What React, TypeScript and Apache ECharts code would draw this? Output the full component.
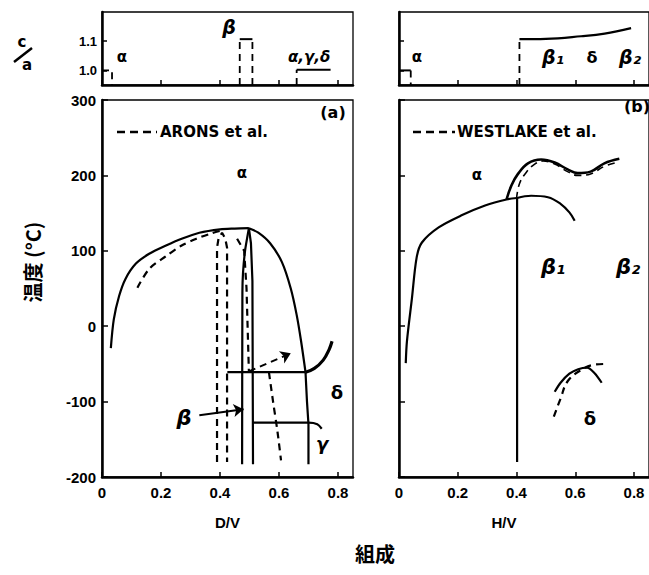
import React, { useEffect, useRef } from "react";
import * as echarts from "echarts";

// ---- tick labels ----
const xTickValues = [0, 0.2, 0.4, 0.6, 0.8];
const tempTickValues = [-200, -100, 0, 100, 200, 300];
const caTickValues = [1.0, 1.1];

// ---- panel (a) D/V : solid (this work) ----
const aAlphaSolid = [[0.03, -29], [0.04, 9], [0.058, 40], [0.08, 63], [0.115, 83], [0.16, 96], [0.217, 107], [0.27, 116], [0.33, 124], [0.4, 128.5], [0.45, 129.5], [0.498, 130]];
const aRightCurve = [[0.498, 130], [0.53, 124], [0.57, 110], [0.61, 85], [0.64, 50], [0.66, 15], [0.675, -20], [0.69, -61]];
const aRightLine = [[0.69, -61], [0.695, -100], [0.7, -130], [0.7, -183]];
const aBetaLeft = [[0.498, 130], [0.485, 100], [0.478, 70], [0.476, 44], [0.475, -183]];
const aBetaRight = [[0.498, 130], [0.505, 110], [0.51, 60], [0.512, -183]];
const aEutectoid = [[0.425, -61], [0.69, -61]];
const aDeltaCurve = [[0.69, -61], [0.72, -56], [0.75, -45], [0.77, -31], [0.78, -20]];
const aGammaLine = [[0.512, -128], [0.7, -128], [0.73, -130], [0.745, -136]];
const aBetaArrow = [[0.33, -118], [0.48, -110]];

// ---- panel (a) D/V : dashed (ARONS et al.) ----
const aAlphaDashed = [[0.12, 51], [0.16, 76], [0.217, 93], [0.27, 107], [0.32, 116], [0.37, 123], [0.405, 127]];
const aDashedLens = [[0.39, -180], [0.39, 104], [0.395, 116], [0.407, 124], [0.418, 116], [0.424, 104], [0.424, -180]];
const aDashedBeta = [[0.458, 116], [0.482, 100], [0.49, 50], [0.498, -60]];
const aDashedArrow = [[0.498, -60], [0.64, -36]];
const aDashedCurve = [[0.566, -61], [0.58, -100], [0.595, -140], [0.607, -178]];

// ---- panel (b) H/V : solid ----
const bAlphaSolid = [[0.023, -49], [0.027, -20], [0.044, 37], [0.06, 91], [0.078, 111], [0.135, 131], [0.213, 147], [0.293, 160], [0.366, 168], [0.402, 170]];
const bVertical = [[0.402, 170], [0.402, -180]];
const bBeta1 = [[0.402, 170], [0.45, 173], [0.507, 171], [0.551, 162], [0.58, 151], [0.598, 140]];
const bUpperSolid = [[0.366, 168], [0.383, 187], [0.405, 202], [0.439, 216], [0.484, 221], [0.53, 217], [0.574, 208], [0.608, 203], [0.652, 205], [0.699, 216], [0.75, 222]];
const bDeltaSolid = [[0.53, -87], [0.55, -75], [0.58, -63], [0.61, -57], [0.64, -55], [0.665, -62], [0.69, -75]];

// ---- panel (b) H/V : dashed (WESTLAKE et al.) ----
const bUpperDashed = [[0.4, 169], [0.41, 189], [0.433, 204], [0.462, 215], [0.49, 219], [0.53, 215], [0.574, 205], [0.608, 200], [0.652, 202], [0.699, 212], [0.75, 218]];
const bDeltaDashed = [[0.527, -120], [0.55, -96], [0.574, -73], [0.62, -58], [0.665, -51], [0.71, -50]];

// ---- top panels c/a ----
const caAAlpha = [[0, 1.0], [0.034, 1.0], [0.034, 0.95]];
const caABetaLeft = [[0.467, 0.95], [0.467, 1.107]];
const caABetaRight = [[0.51, 0.95], [0.51, 1.107]];
const caABetaTop = [[0.467, 1.107], [0.51, 1.107]];
const caAGammaDash = [[0.66, 0.95], [0.66, 1.002]];
const caAGammaLine = [[0.66, 1.002], [0.775, 1.002]];
const caBAlpha = [[0, 1.0], [0.04, 1.0]];
const caBAlphaDash = [[0.04, 1.0], [0.04, 0.95]];
const caBDash = [[0.41, 0.95], [0.41, 1.107]];
const caBCurve = [[0.41, 1.107], [0.5, 1.108], [0.62, 1.117], [0.7, 1.126], [0.79, 1.145]];

const FONT = "Liberation Sans";
const BLACK = "#000";

function ln(data: number[][], axis: number, opts: { dash?: boolean; w?: number; smooth?: number } = {}) {
  return {
    type: "line",
    data,
    xAxisIndex: axis,
    yAxisIndex: axis,
    symbol: "none",
    showSymbol: false,
    silent: true,
    smooth: opts.smooth ?? 0,
    lineStyle: { color: BLACK, width: opts.w ?? 2.2, type: opts.dash ? [7, 5] : "solid" },
    z: 3,
  } as any;
}

function arrow(seg: number[][], dashed: boolean) {
  return {
    silent: true,
    symbol: ["none", "arrow"],
    symbolSize: 10,
    label: { show: false },
    lineStyle: { color: BLACK, width: 2, type: dashed ? [7, 5] : "solid" },
    data: [[{ coord: seg[0] }, { coord: seg[1] }]],
  };
}

function xAx(grid: number, labels: boolean, name?: string, namePad?: number[]) {
  return {
    type: "value",
    gridIndex: grid,
    min: 0,
    max: 0.851,
    name: name,
    nameLocation: "middle",
    nameGap: 38,
    nameTextStyle: { fontFamily: FONT, fontWeight: "bold", fontSize: 15, color: BLACK, padding: namePad || [0, 0, 0, 0] },
    axisLine: { show: true, onZero: false, lineStyle: { color: BLACK, width: 2.5 } },
    axisTick: { show: true, inside: true, length: 5, customValues: xTickValues, lineStyle: { color: BLACK, width: 1.5 } },
    axisLabel: {
      show: labels,
      customValues: xTickValues,
      fontFamily: FONT,
      fontWeight: "bold",
      fontSize: 15,
      color: BLACK,
      margin: 8,
      formatter: (v: number) => (v === 0 ? "0" : v.toFixed(1)),
    },
    splitLine: { show: false },
  } as any;
}

function yMain(grid: number, labels: boolean) {
  return {
    type: "value",
    gridIndex: grid,
    min: -200,
    max: 300,
    interval: 100,
    axisLine: { show: true, onZero: false, lineStyle: { color: BLACK, width: 2.5 } },
    axisTick: { show: true, inside: true, length: 6, lineStyle: { color: BLACK, width: 1.5 } },
    axisLabel: { show: labels, fontFamily: FONT, fontWeight: "bold", fontSize: 15, color: BLACK, margin: 6 },
    splitLine: { show: false },
  } as any;
}

function yTop(grid: number, labels: boolean) {
  return {
    type: "value",
    gridIndex: grid,
    min: 0.95,
    max: 1.2,
    axisLine: { show: true, onZero: false, lineStyle: { color: BLACK, width: 2.5 } },
    axisTick: { show: true, inside: true, length: 5, customValues: caTickValues, lineStyle: { color: BLACK, width: 1.5 } },
    axisLabel: {
      show: labels,
      customValues: caTickValues,
      fontFamily: FONT,
      fontWeight: "bold",
      fontSize: 13,
      color: BLACK,
      margin: 5,
      formatter: (v: number) => v.toFixed(1),
    },
    splitLine: { show: false },
  } as any;
}

function txt(x: number, y: number, text: string, o: any = {}) {
  return {
    type: "text",
    x,
    y,
    silent: true,
    rotation: o.rotation || 0,
    style: {
      text,
      fill: BLACK,
      font: `${o.italic ? "italic " : ""}bold ${o.size || 16}px ${o.family || "'DejaVu Sans'"}`,
      align: o.align || "center",
      verticalAlign: "middle",
    },
  };
}

export default function App() {
  const ref = useRef<HTMLDivElement>(null);
  useEffect(() => {
    if (!ref.current) return;
    const chart = echarts.init(ref.current, null, { renderer: "svg" });
    const gridStyle = { show: true, borderColor: BLACK, borderWidth: 1.3, backgroundColor: "transparent" };
    const series: any[] = [
      // panel a
      ln(aAlphaSolid, 0, { smooth: 0.3 }),
      ln(aRightCurve, 0, { smooth: 0.3 }),
      ln(aRightLine, 0),
      ln(aBetaLeft, 0, { smooth: 0.2 }),
      ln(aBetaRight, 0),
      ln(aEutectoid, 0),
      ln(aDeltaCurve, 0, { smooth: 0.4, w: 3.2 }),
      ln(aGammaLine, 0, { smooth: 0.3 }),
      ln(aAlphaDashed, 0, { dash: true, smooth: 0.3 }),
      ln(aDashedLens, 0, { dash: true }),
      ln(aDashedBeta, 0, { dash: true }),
      { ...ln(aDashedCurve, 0, { dash: true, smooth: 0.3 }), markLine: arrow(aDashedArrow, true) },
      { ...ln([], 0), markLine: arrow(aBetaArrow, false) },
      // panel b
      ln(bAlphaSolid, 1, { smooth: 0.3 }),
      ln(bVertical, 1),
      ln(bBeta1, 1, { smooth: 0.4 }),
      ln(bUpperSolid, 1, { smooth: 0.4, w: 2.6 }),
      ln(bUpperDashed, 1, { smooth: 0.4, dash: true, w: 1.6 }),
      ln(bDeltaSolid, 1, { smooth: 0.3 }),
      ln(bDeltaDashed, 1, { smooth: 0.4, dash: true }),
      // top a
      ln(caAAlpha, 2, { dash: true, w: 1.8 }),
      ln(caABetaLeft, 2, { dash: true, w: 1.8 }),
      ln(caABetaRight, 2, { dash: true, w: 1.8 }),
      ln(caABetaTop, 2, { w: 2 }),
      ln(caAGammaDash, 2, { dash: true, w: 1.8 }),
      ln(caAGammaLine, 2, { w: 2 }),
      // top b
      ln(caBAlpha, 3, { w: 2 }),
      ln(caBAlphaDash, 3, { dash: true, w: 1.8 }),
      ln(caBDash, 3, { dash: true, w: 1.8 }),
      ln(caBCurve, 3, { smooth: 0.4, w: 2.2 }),
    ];

    const graphic: any[] = [
      // y axis titles
      txt(32, 262, "温度 (°C)", { rotation: Math.PI / 2, size: 20, family: "'Noto Sans CJK JP'" }),
      txt(22, 42, "c", { size: 15 }),
      txt(27, 65, "a", { size: 15 }),
      { type: "line", silent: true, shape: { x1: 14, y1: 62, x2: 32, y2: 48 }, style: { stroke: BLACK, lineWidth: 2.5 } },
      // bottom title
      txt(375, 553, "組成", { size: 20, family: "'Noto Sans CJK JP'" }),
      // top panel labels
      txt(122, 57, "α", { size: 15 }),
      txt(229, 27, "β", { size: 19, italic: true }),
      txt(288, 57, "α,γ,δ", { size: 15, align: "left", italic: true }),
      txt(417, 57, "α", { size: 15 }),
      txt(553, 57, "β₁", { size: 19, italic: true }),
      txt(592, 57, "δ", { size: 16 }),
      txt(630, 57, "β₂", { size: 19, italic: true }),
      // main a labels
      txt(333, 112, "(a)", { size: 16 }),
      txt(242, 173, "α", { size: 15 }),
      txt(337, 392, "δ", { size: 18 }),
      txt(322, 443, "γ", { size: 18, italic: true }),
      txt(184, 418, "β", { size: 21, italic: true }),
      // main b labels
      txt(637, 106, "(b)", { size: 16 }),
      txt(477, 175, "α", { size: 15 }),
      txt(553, 267, "β₁", { size: 21, italic: true }),
      txt(628, 267, "β₂", { size: 21, italic: true }),
      txt(590, 418, "δ", { size: 18 }),
      // legends
      { type: "line", silent: true, shape: { x1: 117, y1: 132, x2: 157, y2: 132 }, style: { stroke: BLACK, lineWidth: 2.5, lineDash: [8, 5] } },
      txt(160, 132, "ARONS et al.", { size: 15, align: "left" }),
      { type: "line", silent: true, shape: { x1: 413, y1: 132, x2: 455, y2: 132 }, style: { stroke: BLACK, lineWidth: 2.5, lineDash: [8, 5] } },
      txt(457, 132, "WESTLAKE et al.", { size: 15, align: "left" }),
    ];

    chart.setOption({
      animation: false,
      backgroundColor: "#fff",
      grid: [
        { left: 102, top: 100, width: 251, height: 377, ...gridStyle },
        { left: 399, top: 100, width: 252, height: 377, ...gridStyle },
        { left: 102, top: 12, width: 251, height: 73, ...gridStyle },
        { left: 399, top: 12, width: 252, height: 73, ...gridStyle },
      ],
      xAxis: [
        xAx(0, true, "D/V"),
        xAx(1, true, "H/V", [0, 40, 0, 0]),
        xAx(2, false),
        xAx(3, false),
      ],
      yAxis: [yMain(0, true), yMain(1, false), yTop(2, true), yTop(3, false)],
      series,
      graphic,
    });
    return () => chart.dispose();
  }, []);
  return <div ref={ref} style={{ position: "fixed", left: 0, top: 0, width: 649, height: 575 }} />;
}
